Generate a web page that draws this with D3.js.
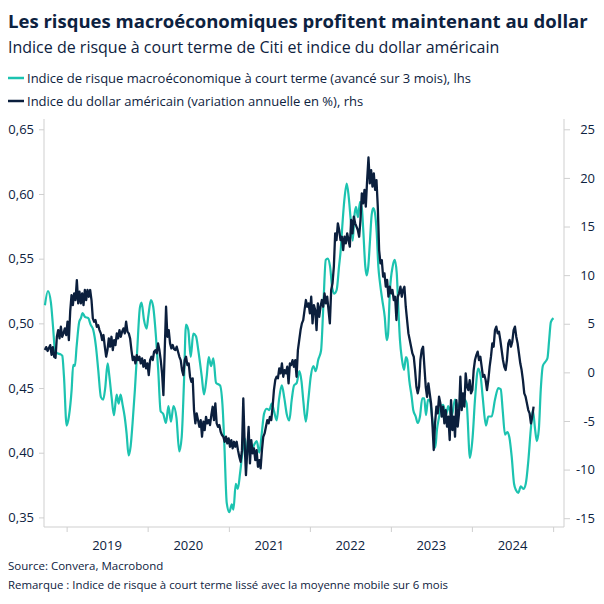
<!DOCTYPE html>
<html><head><meta charset="utf-8">
<script src="https://cdn.jsdelivr.net/npm/d3@7/dist/d3.min.js"></script>
<style>body{margin:0;background:#fff}svg{display:block}</style>
</head><body><svg id="c" width="604" height="604"></svg>
<script>
// ---------------- DATA ----------------
const title = "Les risques macroéconomiques profitent maintenant au dollar";
const subtitle = "Indice de risque à court terme de Citi et indice du dollar américain";
const seriesNames = [
  "Indice de risque macroéconomique à court terme (avancé sur 3 mois), lhs",
  "Indice du dollar américain (variation annuelle en %), rhs"
];
const footnotes = [
  "Source: Convera, Macrobond",
  "Remarque : Indice de risque à court terme lissé avec la moyenne mobile sur 6 mois"
];
const leftTicks = [0.35, 0.40, 0.45, 0.50, 0.55, 0.60, 0.65];
const rightTicks = [-15, -10, -5, 0, 5, 10, 15, 20, 25];
const yearLabels = [2019, 2020, 2021, 2022, 2023, 2024];
const yearTicks = [2019, 2020, 2021, 2022, 2023, 2024, 2025];

// Citi short-term macro risk index (6m MA, advanced 3 months), time as decimal year
const riskYears = [
2018.732,2018.769,2018.806,2018.835,2018.856,2018.884,2018.926,2018.946,2018.967,2019.000,
2019.028,2019.062,2019.081,2019.102,2019.123,2019.155,2019.176,2019.197,2019.226,2019.267,
2019.296,2019.328,2019.362,2019.390,2019.423,2019.452,2019.476,2019.506,2019.526,2019.555,
2019.584,2019.617,2019.642,2019.666,2019.691,2019.716,2019.740,2019.765,2019.790,2019.814,
2019.843,2019.871,2019.904,2019.925,2019.954,2019.987,2020.007,2020.040,2020.068,2020.102,
2020.130,2020.160,2020.192,2020.225,2020.256,2020.287,2020.318,2020.355,2020.389,2020.419,
2020.447,2020.472,2020.500,2020.530,2020.562,2020.595,2020.624,2020.666,2020.694,2020.727,
2020.752,2020.780,2020.809,2020.842,2020.891,2020.925,2020.944,2020.974,2021.006,2021.036,
2021.056,2021.085,2021.110,2021.138,2021.171,2021.200,2021.221,2021.249,2021.283,2021.311,
2021.344,2021.376,2021.406,2021.434,2021.468,2021.500,2021.529,2021.558,2021.591,2021.619,
2021.653,2021.685,2021.714,2021.746,2021.776,2021.804,2021.838,2021.870,2021.897,2021.919,
2021.950,2021.981,2022.011,2022.043,2022.072,2022.104,2022.138,2022.166,2022.196,2022.220,
2022.249,2022.277,2022.302,2022.331,2022.360,2022.381,2022.400,2022.425,2022.455,2022.479,
2022.504,2022.529,2022.548,2022.569,2022.594,2022.619,2022.643,2022.659,2022.684,2022.701,
2022.721,2022.742,2022.763,2022.783,2022.804,2022.825,2022.845,2022.866,2022.894,2022.924,
2022.948,2022.964,2022.989,2023.022,2023.047,2023.072,2023.091,2023.112,2023.137,2023.162,
2023.186,2023.202,2023.227,2023.257,2023.276,2023.306,2023.331,2023.359,2023.387,2023.412,
2023.433,2023.458,2023.482,2023.513,2023.548,2023.569,2023.593,2023.618,2023.646,2023.680,
2023.708,2023.750,2023.791,2023.832,2023.873,2023.914,2023.935,2023.976,2024.009,2024.038,
2024.078,2024.108,2024.133,2024.173,2024.202,2024.244,2024.284,2024.325,2024.355,2024.379,
2024.408,2024.436,2024.461,2024.490,2024.519,2024.544,2024.572,2024.602,2024.634,2024.663,
2024.695,2024.725,2024.750,2024.778,2024.799,2024.824,2024.848,2024.873,2024.901,2024.930,
2024.951,2024.972,2025.004
];
const riskValues = [
0.514,0.525,0.516,0.495,0.479,0.477,0.476,0.475,0.459,0.421,
0.428,0.449,0.468,0.467,0.482,0.501,0.504,0.508,0.505,0.504,
0.499,0.495,0.482,0.464,0.443,0.441,0.450,0.469,0.460,0.443,
0.429,0.445,0.438,0.445,0.437,0.428,0.415,0.398,0.405,0.423,
0.449,0.479,0.512,0.516,0.503,0.496,0.505,0.518,0.513,0.490,
0.464,0.432,0.430,0.423,0.436,0.424,0.436,0.427,0.401,0.412,
0.454,0.499,0.495,0.474,0.492,0.490,0.479,0.459,0.445,0.459,
0.474,0.467,0.473,0.454,0.452,0.433,0.407,0.361,0.354,0.360,
0.356,0.376,0.372,0.384,0.402,0.411,0.397,0.407,0.402,0.406,
0.409,0.400,0.415,0.430,0.434,0.433,0.438,0.432,0.425,0.441,
0.452,0.442,0.430,0.425,0.441,0.452,0.454,0.463,0.455,0.440,
0.424,0.441,0.459,0.467,0.463,0.472,0.479,0.513,0.549,0.550,
0.544,0.527,0.523,0.526,0.544,0.557,0.575,0.595,0.608,0.598,
0.580,0.564,0.582,0.590,0.582,0.594,0.588,0.572,0.544,0.537,
0.544,0.564,0.584,0.589,0.585,0.570,0.544,0.531,0.518,0.505,
0.487,0.491,0.526,0.544,0.549,0.539,0.513,0.487,0.472,0.464,
0.474,0.472,0.456,0.443,0.433,0.428,0.423,0.428,0.442,0.442,
0.429,0.441,0.440,0.425,0.404,0.418,0.427,0.436,0.437,0.429,
0.436,0.428,0.441,0.435,0.443,0.441,0.438,0.396,0.412,0.441,
0.465,0.459,0.443,0.421,0.428,0.428,0.441,0.450,0.449,0.433,
0.414,0.416,0.412,0.397,0.376,0.371,0.369,0.374,0.372,0.376,
0.394,0.418,0.433,0.418,0.409,0.418,0.449,0.467,0.470,0.473,
0.487,0.501,0.504
];

// US dollar index, year-on-year %, sampled every 6 days from dollarStart
const dollarStart = "2018-09-25";
const dollarStepDays = 6;
const dollarValues = [
2.3,2.6,2.2,2.5,2.8,1.8,2.6,1.6,1.5,
3.66,4.35,3.49,4.69,3.66,4.01,4.52,3.84,5.21,3.32,
6.24,7.95,6.92,8.12,7.44,9.49,7.09,8.29,7.09,8.12,
6.92,8.47,7.44,8.47,7.78,8.47,7.44,5.55,5.21,5.38,
4.69,4.86,4.35,4.01,3.32,3.84,2.64,1.61,2.29,3.49,
2.64,3.66,2.29,3.32,2.81,4.01,3.49,4.35,3.66,4.18,
4.52,4.01,5.21,4.18,4.01,3.49,2.29,1.26,1.61,0.92,
1.78,1.26,1.61,0.92,1.43,0.58,1.26,0.41,0.92,-0.28,
1.26,1.61,1.26,2.12,2.29,1.95,2.98,2.29,1.26,-0.11,
-2.34,2.29,6.75,3.66,4.35,2.98,
2.46,2.81,2.4,2.29,2.64,2.12,1.6,1.26,0.23,-0.28,
1.26,1.61,0.75,0.92,-0.45,-0.97,-0.62,-3.88,-5.25,-4.22,
-4.91,-5.60,-4.91,-6.62,-5.08,-5.94,-4.57,-5.25,-4.91,-5.42,
-4.39,-3.54,-4.91,-3.19,-5.25,-5.60,-5.42,-6.11,-6.45,-6.62,
-7.14,-6.62,-7.31,-6.79,-7.65,-6.97,-7.82,-7.14,-7.65,-7.14,
-8.00,-8.68,-9.20,-8.00,-2.68,-7.31,-10.57,-8.00,-5.60,-9.37,
-6.97,-8.34,-7.82,-9.02,-8.00,-9.71,-9.02,-9.88,-8.00,-6.62,
-6.28,-5.60,-4.91,-5.25,-4.57,-4.91,-3.54,-1.82,-0.79,-0.45,
-0.62,0.41,-0.11,0.92,-0.45,0.23,-0.11,0.58,-1.14,0.92,
0.75,1.26,0.58,1.26,-0.45,2.29,3.32,4.35,5.04,5.38,
6.41,7.44,6.75,7.10,6.07,7.78,5.04,6.92,6.41,4.35,
7.10,5.72,6.75,7.44,6.75,8.13,7.10,7.78,6.41,5.04,
8.47,9.16,10.87,14.30,13.61,15.33,14.64,13.61,13.95,12.58,
13.95,13.27,14.30,13.61,12.93,15.67,14.30,16.01,15.33,14.99,
14.64,13.95,15.67,18.41,17.38,18.76,17.04,19.78,22.1,19.44,
20.81,19.10,20.47,18.76,19.78,17.04,12.58,11.21,11.55,9.84,
10.18,8.81,9.50,7.78,8.81,8.13,8.47,7.44,7.78,5.38,
7.78,8.13,8.81,7.78,8.47,8.81,6.75,5.38,4.01,3.32,
2.64,1.95,1.61,0.24,-1.48,-2.16,-1.48,1.27,2.30,2.64,
0.58,-1.48,-2.51,-1.13,-2.16,-3.19,-5.25,-7.99,
-5.25,-3.53,-4.22,-2.50,-3.19,-4.56,-3.53,-5.25,-3.88,-5.59,
-4.56,-6.96,-2.85,-5.93,-4.56,-6.62,-2.85,-5.59,-4.22,-0.45,
-3.88,-2.16,-3.53,-0.10,-1.47,-1.82,-0.79,-2.16,-1.82,0.24,
1.27,1.78,2.13,1.27,1.61,0.58,-0.45,-0.27,-0.79,-1.82,
-0.79,0.58,1.61,2.98,2.64,4.35,4.70,4.01,4.18,3.33,
2.30,1.27,0.58,0.24,1.27,2.98,3.33,2.64,3.16,4.35,
4.70,3.67,2.98,1.95,0.93,0.24,-0.79,-2.16,-2.50,-3.19,
-3.88,-4.22,-5.25,-4.56,-3.53
];

// ---------------- STYLE / LAYOUT ----------------
const TEAL = "#1cc3b0", NAVY = "#0b1f3d", TEXT = "#0d2240", GRID = "#cfcfcf";
const FONT = "'Segoe UI','Open Sans','Noto Sans',sans-serif";
const plotL = 44, plotR = 564, plotT = 119, plotB = 527;

function fromDecimalYear(y) {
  const yr = Math.floor(y);
  const a = new Date(yr, 0, 1), b = new Date(yr + 1, 0, 1);
  return new Date(+a + (y - yr) * (b - a));
}

const risk = riskYears.map((y, i) => ({ date: fromDecimalYear(y), value: riskValues[i] }));
const start = d3.timeParse("%Y-%m-%d")(dollarStart);
const dollar = dollarValues.map((v, i) => ({ date: d3.timeDay.offset(start, i * dollarStepDays), value: v }));

const svg = d3.select("#c");

const x = d3.scaleTime().domain([new Date(2018, 8, 21), new Date(2025, 1, 19)]).range([plotL, plotR]);
const yL = d3.scaleLinear().domain([0.35, 0.65]).range([517.4, 129.3]);
const yR = d3.scaleLinear().domain([-15, 25]).range([518.2, 129.3]);

const loc = d3.formatLocale({ decimal: ",", thousands: " ", grouping: [3], currency: ["", "€"], minus: "-" });
const fmtL = loc.format(".2f"), fmtR = loc.format("d");

// axes
const gL = svg.append("g").attr("transform", `translate(${plotL},0)`)
  .call(d3.axisLeft(yL).tickValues(leftTicks).tickFormat(fmtL).tickSize(5).tickPadding(5));
const gR = svg.append("g").attr("transform", `translate(${plotR},0)`)
  .call(d3.axisRight(yR).tickValues(rightTicks).tickFormat(fmtR).tickSize(6).tickPadding(5));
const gX = svg.append("g").attr("transform", `translate(0,${plotB})`)
  .call(d3.axisBottom(x).tickValues(yearTicks.map(y => new Date(y, 0, 1))).tickFormat("").tickSize(5).tickSizeOuter(0));

[gL, gR, gX].forEach(g => {
  g.select(".domain").remove();
  g.selectAll(".tick line").attr("stroke", GRID).attr("stroke-width", 1);
  g.selectAll("text").attr("fill", TEXT).style("font-family", FONT).style("font-size", "13px");
});
gR.selectAll(".tick text").attr("text-anchor", "end").attr("x", 595 - plotR);

// axis lines
svg.append("line").attr("x1", plotL).attr("x2", plotL).attr("y1", plotT).attr("y2", plotB).attr("stroke", GRID);
svg.append("line").attr("x1", plotR).attr("x2", plotR).attr("y1", plotT).attr("y2", plotB).attr("stroke", GRID);
svg.append("line").attr("x1", plotL).attr("x2", plotR).attr("y1", plotB).attr("y2", plotB).attr("stroke", GRID);

// year labels (centred mid-year)
svg.append("g").selectAll("text").data(yearLabels).join("text")
  .attr("x", d => x(new Date(d, 6, 2))).attr("y", 550)
  .attr("text-anchor", "middle").attr("fill", TEXT)
  .style("font-family", FONT).style("font-size", "13px").text(d => d);

// lines
svg.append("path").datum(risk)
  .attr("fill", "none").attr("stroke", TEAL).attr("stroke-width", 2.2).attr("stroke-linejoin", "round")
  .attr("d", d3.line().x(d => x(d.date)).y(d => yL(d.value)).curve(d3.curveMonotoneX));
svg.append("path").datum(dollar)
  .attr("fill", "none").attr("stroke", NAVY).attr("stroke-width", 2.3).attr("stroke-linejoin", "round")
  .attr("d", d3.line().x(d => x(d.date)).y(d => yR(d.value)));

// texts: shrink font so the natural width never exceeds the target width
function fitText(sel, w, size) {
  sel.style("font-size", size + "px");
  const w0 = sel.node().getComputedTextLength();
  if (w0 > w) {
    size = size * w / w0;
    sel.style("font-size", size.toFixed(2) + "px");
  }
}
svg.append("text").attr("x", 8).attr("y", 28).attr("fill", TEXT)
  .style("font-family", FONT).style("font-weight", 700)
  .text(title).call(fitText, 580, 19.5);
svg.append("text").attr("x", 8).attr("y", 53).attr("fill", TEXT)
  .style("font-family", FONT)
  .text(subtitle).call(fitText, 493, 16);

const legendY = [78, 101], legendW = [452, 343], colors = [TEAL, NAVY];
seriesNames.forEach((n, i) => {
  svg.append("line").attr("x1", 8).attr("x2", 24).attr("y1", legendY[i]).attr("y2", legendY[i])
    .attr("stroke", colors[i]).attr("stroke-width", 2.5);
  svg.append("text").attr("x", 27).attr("y", legendY[i] + 4.5).attr("fill", TEXT)
    .style("font-family", FONT)
    .text(n).call(fitText, legendW[i], 13);
});

const footY = [570, 589], footW = [156, 440];
footnotes.forEach((t, i) => {
  svg.append("text").attr("x", 8).attr("y", footY[i]).attr("fill", TEXT)
    .style("font-family", FONT)
    .text(t).call(fitText, footW[i], 11.5);
});
</script>
</body></html>
